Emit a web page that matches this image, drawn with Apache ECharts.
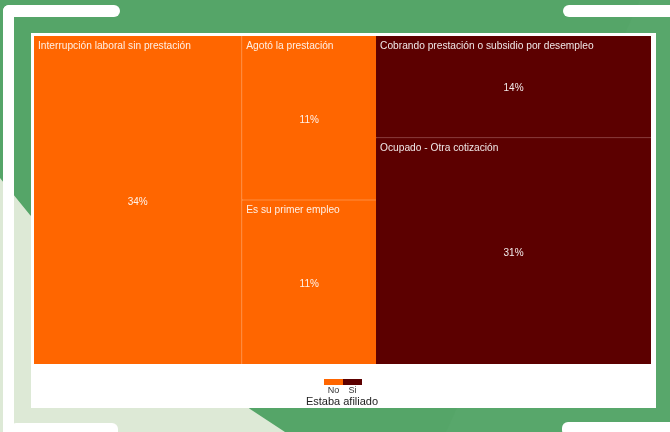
<!DOCTYPE html>
<html>
<head>
<meta charset="utf-8">
<script src="https://cdn.jsdelivr.net/npm/echarts@6/dist/echarts.min.js"></script>
<style>
html,body{margin:0;padding:0;background:#55a568;}
#chart{width:670px;height:432px;}
</style>
</head>
<body>
<div id="chart"></div>
<script>
// ---- data ----
const groups = ['No', 'Si'];
const categories = [
  'Interrupción laboral sin prestación',
  'Agotó la prestación',
  'Es su primer empleo',
  'Cobrando prestación o subsidio por desempleo',
  'Ocupado - Otra cotización'
];
const categoryGroup = ['No', 'No', 'No', 'Si', 'Si'];
const percentValues = [34, 11, 11, 14, 31];
const legendTitle = 'Estaba afiliado';

// ---- styles ----
const groupColor = { No: '#ff6600', Si: '#5c0000' };
const groupGap = { No: '#ffb47e', Si: '#a45f5f' };
const FONT = '"Liberation Sans", Arial, sans-serif';

function buildTree(overlay) {
  return groups.map(g => ({
    name: g,
    itemStyle: overlay ? { color: 'transparent', borderColor: 'transparent' }
                       : { color: groupColor[g], borderColor: groupGap[g] },
    children: categories.map((c, i) => ({ name: c, value: percentValues[i], grp: categoryGroup[i] }))
      .filter(d => d.grp === g)
      .map(d => ({
        name: d.name,
        value: d.value,
        itemStyle: overlay ? { color: 'transparent', borderColor: 'transparent' }
                           : { color: groupColor[g], borderColor: groupColor[g] }
      }))
  }));
}

const area = { left: 34, top: 36, width: 617, height: 328 };

function treemapSeries(overlay) {
  return Object.assign({
    type: 'treemap',
    roam: false,
    nodeClick: false,
    sort: false,
    squareRatio: 1,
    breadcrumb: { show: false },
    animation: false,
    silent: overlay,
    z: overlay ? 4 : 2,
    data: buildTree(overlay),
    levels: [
      { itemStyle: { borderWidth: 0, gapWidth: 0, borderColor: 'transparent' } },
      { itemStyle: { borderWidth: 0, gapWidth: 1 } },
      { itemStyle: { borderWidth: 0, gapWidth: 0 } }
    ],
    label: overlay ? {
      show: true,
      position: 'inside',
      offset: [0, 2],
      formatter: p => p.value + '%',
      fontFamily: FONT,
      fontSize: 10,
      color: 'rgba(255,255,255,0.92)'
    } : {
      show: true,
      position: 'insideTopLeft',
      formatter: '{b}',
      fontFamily: FONT,
      fontSize: 10.2,
      padding: [5, 4],
      color: 'rgba(255,255,255,0.9)'
    },
    upperLabel: { show: false },
    emphasis: { disabled: true }
  }, area);
}

const chart = echarts.init(document.getElementById('chart'), null, { renderer: 'canvas' });

const decor = [
  // light green lower-left region
  { type: 'polygon', z: -5, shape: { points: [[0, 178], [30, 215], [250, 409], [285, 432], [0, 432]] }, style: { fill: '#dde9d6' } },
  // subtle lighter green band on right
  { type: 'polygon', z: -6, shape: { points: [[640, 0], [670, 0], [670, 432], [446, 432]] }, style: { fill: '#58a76b' } },
  // white bars
  { type: 'rect', z: -4, shape: { x: 3, y: 5, width: 117, height: 12, r: 6 }, style: { fill: '#ffffff' } },
  { type: 'rect', z: -4, shape: { x: 3, y: 5, width: 11, height: 430, r: [6, 0, 0, 0] }, style: { fill: '#ffffff' } },
  { type: 'rect', z: -4, shape: { x: 10, y: 423, width: 108, height: 14, r: 6 }, style: { fill: '#ffffff' } },
  { type: 'rect', z: -4, shape: { x: 563, y: 5, width: 115, height: 12, r: 6 }, style: { fill: '#ffffff' } },
  { type: 'rect', z: -4, shape: { x: 562, y: 422, width: 115, height: 14, r: 6 }, style: { fill: '#ffffff' } },
  // white panel
  { type: 'rect', z: -3, shape: { x: 31, y: 33, width: 625, height: 375 }, style: { fill: '#ffffff' } }
];

const legendEls = [];
groups.forEach((g, i) => {
  legendEls.push({ type: 'rect', z: 10, shape: { x: 324 + i * 19, y: 379, width: 19, height: 6 }, style: { fill: groupColor[g] } });
  legendEls.push({ type: 'text', z: 10, x: 333.5 + i * 19, y: 391, style: { text: g, font: '9px ' + FONT, fill: '#333', align: 'center', verticalAlign: 'middle' } });
});
legendEls.push({ type: 'text', z: 10, x: 342, y: 402, style: { text: legendTitle, font: '11px ' + FONT, fill: '#222', align: 'center', verticalAlign: 'middle' } });

chart.setOption({
  backgroundColor: '#55a568',
  animation: false,
  graphic: { elements: decor.concat(legendEls) },
  series: [treemapSeries(false), treemapSeries(true)]
});
</script>
</body>
</html>
